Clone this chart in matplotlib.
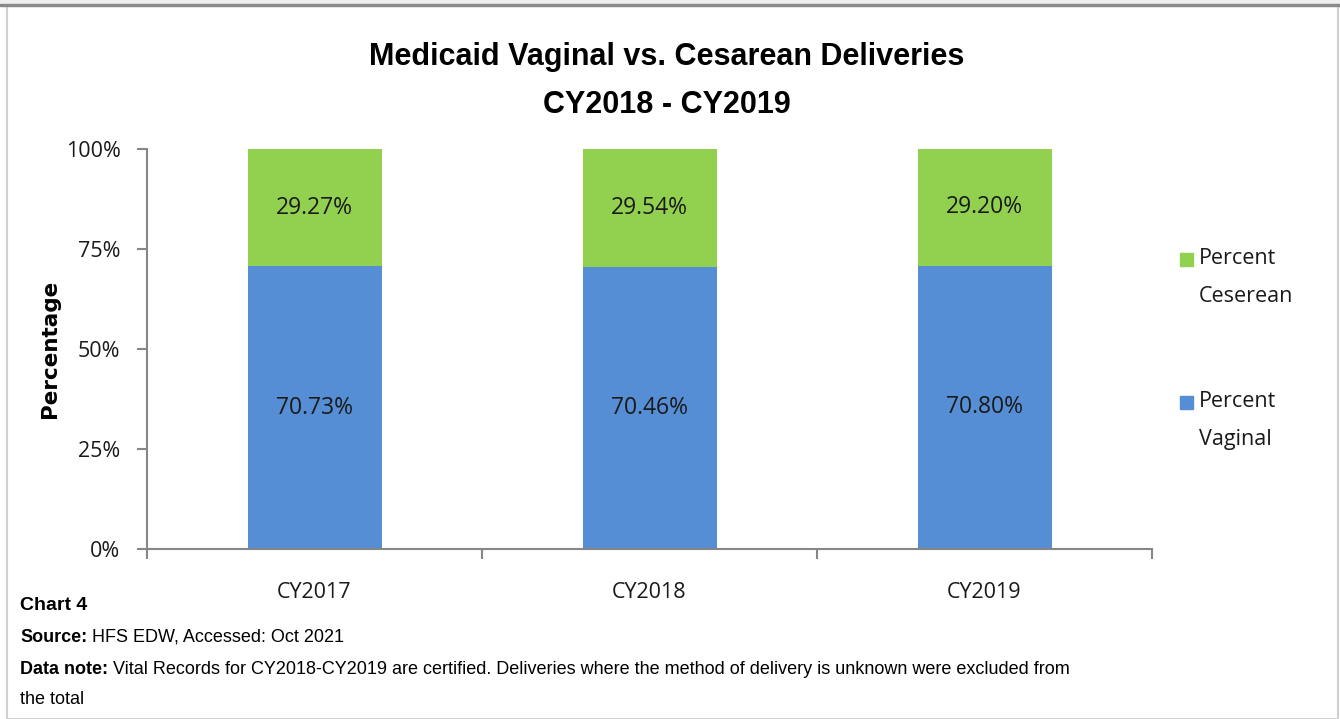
import matplotlib.pyplot as plt
from matplotlib.patches import Rectangle

years = ['CY2017', 'CY2018', 'CY2019']
vaginal = [70.73, 70.46, 70.80]
cesarean = [29.27, 29.54, 29.20]
yticks = [0, 25, 50, 75, 100]

plt.rcParams['font.family'] = ['Liberation Sans', 'DejaVu Sans']

blue = '#558ed5'
green = '#92d050'
axis_gray = '#868686'
txt = '#1a1a1a'

W, H = 1340, 719
fig = plt.figure(figsize=(W / 100, H / 100), dpi=100)
ax = fig.add_axes([147 / W, 1 - 549 / H, (1152 - 147) / W, (549 - 149) / H])

x = range(len(years))
ax.bar(x, vaginal, width=0.4, color=blue)
ax.bar(x, cesarean, width=0.4, bottom=vaginal, color=green)

for i in x:
    ax.text(i, vaginal[i] / 2, '%.2f%%' % vaginal[i], ha='center', va='center',
            fontsize=16.5, family='Open Sans', color=txt)
    ax.text(i, vaginal[i] + cesarean[i] / 2, '%.2f%%' % cesarean[i], ha='center',
            va='center', fontsize=16.5, family='Open Sans', color=txt)

ax.set_xlim(-0.5, 2.5)
ax.set_ylim(0, 100)
ax.set_yticks(yticks)
ax.set_yticklabels(['%d%%' % t for t in yticks], family='Open Sans', fontsize=15.5, color=txt)
ax.set_xticks([-0.5, 0.5, 1.5, 2.5])
ax.set_xticklabels([])
ax.set_xticks(list(x), minor=True)
ax.set_xticklabels(years, minor=True, family='Open Sans', fontsize=15.5, color=txt)
ax.tick_params(axis='x', which='minor', length=0, pad=24)
ax.tick_params(axis='x', which='major', length=7, color=axis_gray, width=1.5)
ax.tick_params(axis='y', length=7, color=axis_gray, width=1.5, pad=12)
for s in ['top', 'right']:
    ax.spines[s].set_visible(False)
for s in ['left', 'bottom']:
    ax.spines[s].set_color(axis_gray)
    ax.spines[s].set_linewidth(1.5)

ax.set_ylabel('Percentage', family='DejaVu Sans', fontweight='bold', fontsize=15.5, labelpad=4)

fig.text(667 / W, 1 - 57 / H, 'Medicaid Vaginal vs. Cesarean Deliveries', ha='center', va='center',
         fontsize=22, fontweight='bold')
fig.text(667 / W, 1 - 105 / H, 'CY2018 - CY2019', ha='center', va='center',
         fontsize=22, fontweight='bold')

# legend
leg = [(green, ['Percent', 'Ceserean'], 259), (blue, ['Percent', 'Vaginal'], 402)]
for col, lines, ypix in leg:
    fig.patches.append(Rectangle((1180 / W, 1 - (ypix + 7) / H), 13 / W, 13 / H,
                                 transform=fig.transFigure, color=col))
    for j, line in enumerate(lines):
        fig.text(1199 / W, 1 - (ypix + 38 * j) / H, line, ha='left', va='center',
                 fontsize=15.5, family='Open Sans', color=txt)

# footer
fs = 13
fig.text(20 / W, 1 - 606 / H, 'Chart 4', fontsize=14, fontweight='bold', va='center')
t1 = fig.text(20 / W, 1 - 637 / H, 'Source:', fontsize=fs, fontweight='bold', va='center')
t2 = fig.text(20 / W, 1 - 670 / H, 'Data note:', fontsize=fs, fontweight='bold', va='center')
fig.text(20 / W, 1 - 699 / H, 'the total', fontsize=fs, va='center')

fig.canvas.draw()
r = fig.canvas.get_renderer()
for t, s, y in [(t1, ' HFS EDW, Accessed: Oct 2021', 637),
                (t2, ' Vital Records for CY2018-CY2019 are certified. Deliveries where the method of delivery is unknown were excluded from', 670)]:
    bb = t.get_window_extent(r)
    fig.text(bb.x1 / W, 1 - y / H, s, fontsize=fs, va='center')

# frame
fig.patches.append(Rectangle((7 / W, 0), (1338 - 7) / W, 1 - 5 / H, transform=fig.transFigure,
                             fill=False, edgecolor='#d0d0d0', linewidth=1.5))
fig.patches.append(Rectangle((0, 1 - 6 / H), 1, 6 / H, transform=fig.transFigure,
                             color='#efefef'))
fig.patches.append(Rectangle((0, 1 - 6 / H), 1, 2 / H, transform=fig.transFigure,
                             color='#8a8a8a'))

fig.savefig('out.png', dpi=100)
